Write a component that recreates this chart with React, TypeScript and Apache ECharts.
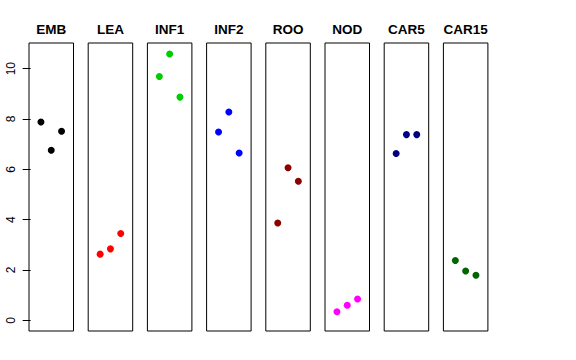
import React, { useEffect, useRef } from "react";
import * as echarts from "echarts";

const panels = ["EMB", "LEA", "INF1", "INF2", "ROO", "NOD", "CAR5", "CAR15"];
const xPositions = [1, 2, 3];
const embValues = [7.88, 6.76, 7.51];
const leaValues = [2.63, 2.84, 3.45];
const inf1Values = [9.69, 10.58, 8.87];
const inf2Values = [7.48, 8.28, 6.65];
const rooValues = [3.87, 6.06, 5.53];
const nodValues = [0.34, 0.6, 0.85];
const car5Values = [6.63, 7.38, 7.38];
const car15Values = [2.38, 1.96, 1.79];
const seriesValues = [embValues, leaValues, inf1Values, inf2Values, rooValues, nodValues, car5Values, car15Values];
const panelColors = ["#000000", "#FF0000", "#00CD00", "#0000FF", "#8B0000", "#FF00FF", "#000080", "#006400"];
const yTicks = [0, 2, 4, 6, 8, 10];

export default function App() {
  const ref = useRef<HTMLDivElement>(null);
  useEffect(() => {
    if (!ref.current) return;
    const chart = echarts.init(ref.current, null, { renderer: "svg" });
    const left0 = 29;
    const step = 59.2;
    const w = 44.5;
    const top = 43;
    const h = 288;
    const font = "'Liberation Sans', Arial, Helvetica, sans-serif";
    chart.setOption({
      animation: false,
      backgroundColor: "#ffffff",
      grid: panels.map((_, i) => ({
        left: left0 + i * step,
        top,
        width: w,
        height: h,
        show: true,
        borderColor: "#000000",
        borderWidth: 1,
        backgroundColor: "transparent",
      })),
      xAxis: panels.map((_, i) => ({
        type: "value",
        gridIndex: i,
        min: -0.16,
        max: 4.16,
        show: false,
      })),
      yAxis: panels.map((_, i) => ({
        type: "value",
        gridIndex: i,
        min: -0.424,
        max: 11.02,
        show: i === 0,
        axisLine: { show: false },
        splitLine: { show: false },
        axisTick: {
          show: i === 0,
          inside: false,
          length: 8,
          lineStyle: { color: "#000000", width: 1 },
          customValues: yTicks,
        },
        axisLabel: {
          show: i === 0,
          rotate: 90,
          margin: 12,
          color: "#000000",
          fontSize: 12,
          fontFamily: font,
          customValues: yTicks,
        },
      })),
      graphic: panels.map((name, i) => ({
        type: "text",
        x: left0 + i * step + w / 2,
        y: 29.5,
        style: {
          text: name,
          align: "center",
          verticalAlign: "middle",
          fontSize: 13.5,
          fontWeight: "bold",
          fontFamily: font,
          fill: "#000000",
        },
      })),
      series: panels.map((name, i) => ({
        type: "scatter",
        name,
        xAxisIndex: i,
        yAxisIndex: i,
        symbol: "circle",
        symbolSize: 7,
        itemStyle: { color: panelColors[i], opacity: 1 },
        emphasis: { disabled: true },
        data: xPositions.map((x, j) => [x, seriesValues[i][j]]),
      })),
    });
    return () => chart.dispose();
  }, []);
  return <div ref={ref} style={{ width: 576, height: 360, position: "absolute", left: 0, top: 0 }} />;
}
